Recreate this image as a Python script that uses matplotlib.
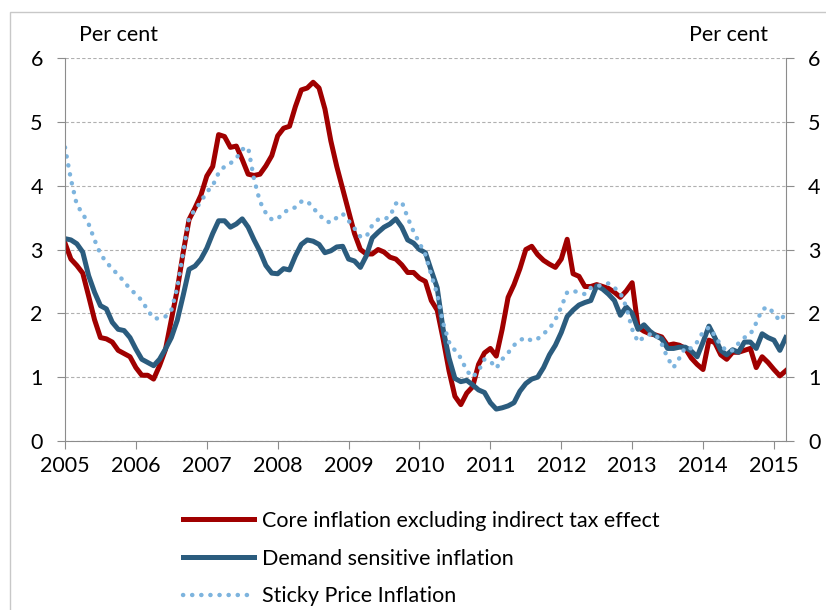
# Core inflation measures, 2005-2015
import numpy as np
import matplotlib.pyplot as plt
from matplotlib.patches import Rectangle

plt.rcParams['font.family'] = ['Lato', 'DejaVu Sans']

# monthly observations, Jan 2005 onwards
start_year = 2005
core_ex_tax = [
    3.10, 2.85, 2.75, 2.63, 2.27, 1.90, 1.62, 1.60, 1.55, 1.42, 1.37, 1.32,
    1.15, 1.03, 1.03, 0.97, 1.18, 1.43, 1.90, 2.37, 2.95, 3.47, 3.65, 3.85,
    4.15, 4.30, 4.80, 4.77, 4.60, 4.62, 4.41, 4.18, 4.16, 4.18, 4.31, 4.47,
    4.78, 4.90, 4.93, 5.24, 5.50, 5.53, 5.62, 5.53, 5.20, 4.70, 4.30, 3.95,
    3.60, 3.25, 3.00, 2.93, 2.93, 3.00, 2.96, 2.88, 2.85, 2.76, 2.64, 2.64,
    2.55, 2.50, 2.20, 2.05, 1.60, 1.10, 0.70, 0.57, 0.75, 0.85, 1.20, 1.38,
    1.45, 1.33, 1.75, 2.25, 2.45, 2.70, 3.00, 3.05, 2.92, 2.83, 2.77, 2.72,
    2.85, 3.16, 2.62, 2.58, 2.42, 2.42, 2.45, 2.42, 2.39, 2.33, 2.25, 2.35,
    2.48, 1.78, 1.72, 1.68, 1.66, 1.63, 1.50, 1.52, 1.50, 1.45, 1.30, 1.20,
    1.12, 1.58, 1.54, 1.35, 1.28, 1.39, 1.39, 1.42, 1.45, 1.15, 1.32, 1.23,
    1.12, 1.02, 1.10,
]
demand_sensitive = [
    3.17, 3.15, 3.09, 2.96, 2.59, 2.33, 2.12, 2.07, 1.86, 1.75, 1.73, 1.62,
    1.44, 1.28, 1.23, 1.18, 1.28, 1.44, 1.62, 1.89, 2.28, 2.69, 2.74, 2.85,
    3.02, 3.25, 3.45, 3.45, 3.35, 3.40, 3.48, 3.35, 3.15, 2.97, 2.75, 2.63,
    2.62, 2.70, 2.68, 2.90, 3.08, 3.15, 3.13, 3.08, 2.95, 2.98, 3.04, 3.05,
    2.85, 2.82, 2.72, 2.90, 3.18, 3.27, 3.35, 3.40, 3.48, 3.35, 3.15, 3.10,
    3.00, 2.95, 2.67, 2.40, 1.75, 1.30, 0.98, 0.93, 0.95, 0.88, 0.80, 0.76,
    0.60, 0.50, 0.52, 0.55, 0.60, 0.78, 0.90, 0.97, 1.00, 1.15, 1.35, 1.50,
    1.70, 1.95, 2.05, 2.13, 2.17, 2.20, 2.43, 2.38, 2.30, 2.20, 1.97, 2.10,
    2.00, 1.75, 1.82, 1.72, 1.65, 1.60, 1.45, 1.45, 1.47, 1.47, 1.41, 1.32,
    1.55, 1.80, 1.62, 1.42, 1.35, 1.43, 1.39, 1.55, 1.55, 1.45, 1.68, 1.62,
    1.58, 1.42, 1.62,
]
sticky_price = [
    4.60, 4.10, 3.70, 3.56, 3.40, 3.15, 2.93, 2.80, 2.70, 2.60, 2.50, 2.38,
    2.30, 2.20, 2.05, 1.92, 1.92, 1.95, 2.05, 2.40, 2.95, 3.50, 3.62, 3.75,
    3.90, 4.00, 4.20, 4.30, 4.35, 4.43, 4.57, 4.60, 4.10, 3.75, 3.57, 3.47,
    3.48, 3.58, 3.63, 3.66, 3.75, 3.76, 3.65, 3.55, 3.45, 3.42, 3.50, 3.56,
    3.45, 3.33, 3.20, 3.20, 3.38, 3.47, 3.47, 3.52, 3.72, 3.75, 3.50, 3.28,
    3.10, 2.92, 2.60, 2.30, 1.85, 1.55, 1.42, 1.30, 1.10, 1.00, 1.10, 1.28,
    1.25, 1.14, 1.28, 1.38, 1.50, 1.58, 1.62, 1.57, 1.60, 1.68, 1.76, 1.90,
    2.10, 2.33, 2.35, 2.33, 2.30, 2.40, 2.43, 2.44, 2.47, 2.40, 2.32, 2.10,
    1.75, 1.55, 1.63, 1.67, 1.67, 1.52, 1.30, 1.15, 1.30, 1.47, 1.45, 1.55,
    1.71, 1.78, 1.65, 1.50, 1.41, 1.42, 1.53, 1.62, 1.67, 1.85, 2.06, 2.10,
    2.00, 1.88, 2.00,
]
years = list(range(2005, 2016))
labels = ['Core inflation excluding indirect tax effect',
          'Demand sensitive inflation',
          'Sticky Price Inflation']

dates = start_year + np.arange(len(core_ex_tax)) / 12
fs = 15.5

fig = plt.figure(figsize=(8.26, 6.10), dpi=100)
ax = fig.add_axes([65 / 826, 1 - 441 / 610, (786 - 65) / 826, (441 - 58) / 610])

ax.plot(dates, core_ex_tax, color='#A00000', lw=3.6, label=labels[0],
        solid_joinstyle='round')
ax.plot(dates, demand_sensitive, color='#2B5C7E', lw=3.6, label=labels[1],
        solid_joinstyle='round')
ax.plot(dates, sticky_price, color='#7DB4DE', lw=3.2, label=labels[2],
        linestyle=(0, (0.05, 2.0)), dash_capstyle='round')

ax.set_xlim(2005, 2015.17)
ax.set_ylim(0, 6)
ax.set_yticks(range(0, 7))
ax.set_xticks(years)
ax.set_xticklabels([str(y) for y in years])

gray = '#8C8C8C'
for s in ['left', 'right', 'bottom']:
    ax.spines[s].set_color(gray)
ax.spines['top'].set_visible(False)
ax.yaxis.grid(True, linestyle=(0, (3, 2)), color='#B0B0B0', lw=0.8)
ax.set_axisbelow(True)
ax.tick_params(axis='y', which='both', left=True, right=True,
               labelleft=True, labelright=True, direction='out',
               length=6, color=gray, labelsize=fs, pad=10)
ax.tick_params(axis='x', direction='out', length=6, color=gray,
               labelsize=fs, pad=5)

fig.text(79 / 826, 1 - 35 / 610, 'Per cent', fontsize=fs, ha='left', va='center')
fig.text(768 / 826, 1 - 35 / 610, 'Per cent', fontsize=fs, ha='right', va='center')

fig.legend(loc='upper left', bbox_to_anchor=(183 / 826, 1 - 511 / 610),
           frameon=False, fontsize=fs, handlelength=3.3, handletextpad=0.35,
           labelspacing=0.82, borderpad=0, borderaxespad=0)

# chart border
fig.patches.append(Rectangle((10 / 826, -0.1), 1.2, 1.1 - 12 / 610,
                             transform=fig.transFigure, fill=False,
                             edgecolor='#C8C8C8', lw=1))

fig.savefig('out.png', dpi=100)
